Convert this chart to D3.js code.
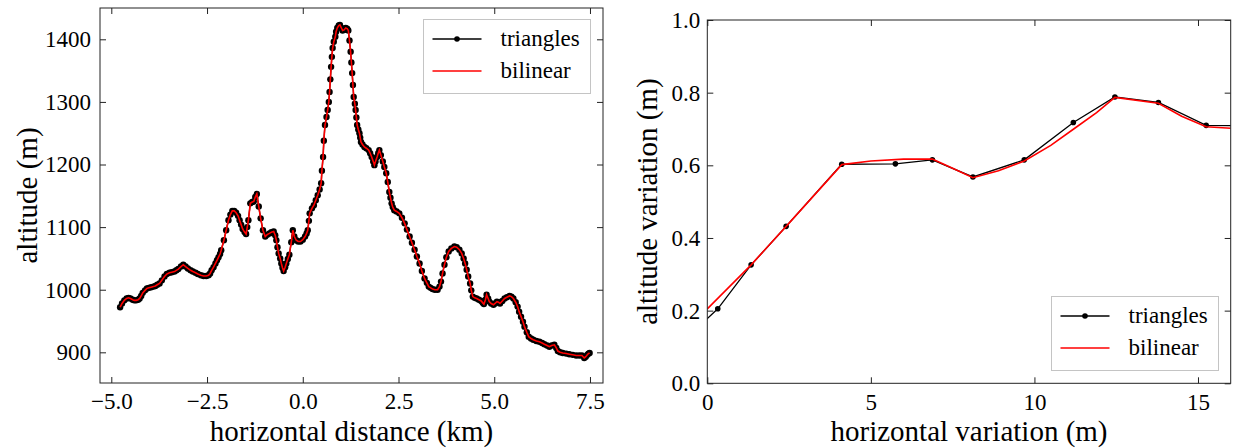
<!DOCTYPE html>
<html lang="en">
  <head>
    <meta charset="UTF-8" />
    <title>profile</title>
    <style>
      body { margin: 0; background: #fff; }
    </style>
  </head>
  <body>
    <svg width="1233" height="448" font-family="'Liberation Serif', 'Times New Roman', Tinos, 'DejaVu Serif', serif"></svg>
    <script src="https://cdn.jsdelivr.net/npm/d3@7"></script>
    <script>
      // left panel: altitude profile (km, m)
      var distKm = [
        -4.77, -4.72, -4.66, -4.6, -4.55, -4.5, -4.44, -4.4, -4.35, -4.3,
        -4.26, -4.22, -4.18, -4.12, -4.07, -4.02, -3.96, -3.9, -3.85, -3.8,
        -3.74, -3.68, -3.61, -3.55, -3.48, -3.42, -3.35, -3.3, -3.25, -3.18,
        -3.12, -3.06, -3.0, -2.93, -2.87, -2.8, -2.74, -2.66, -2.59, -2.52,
        -2.46, -2.42, -2.38, -2.33, -2.28, -2.24, -2.2, -2.16, -2.13, -2.06,
        -2.0, -1.94, -1.89, -1.84, -1.79, -1.74, -1.69, -1.65, -1.61, -1.57,
        -1.52, -1.48, -1.45, -1.42, -1.37, -1.32, -1.28, -1.24, -1.2, -1.15,
        -1.1, -1.04, -0.98, -0.93, -0.87, -0.82, -0.76, -0.72, -0.69, -0.66,
        -0.63, -0.59, -0.56, -0.53, -0.5, -0.46, -0.43, -0.39, -0.35, -0.3,
        -0.26, -0.22, -0.17, -0.12, -0.06, 0.0, 0.06, 0.1, 0.13, 0.16,
        0.18, 0.24, 0.29, 0.34, 0.39, 0.44, 0.48, 0.5, 0.53, 0.55,
        0.58, 0.62, 0.65, 0.68, 0.7, 0.72, 0.74, 0.76, 0.78, 0.81,
        0.85, 0.87, 0.9, 0.94, 0.97, 1.01, 1.04, 1.08, 1.12, 1.16,
        1.19, 1.22, 1.25, 1.27, 1.29, 1.31, 1.33, 1.36, 1.38, 1.4,
        1.42, 1.45, 1.48, 1.5, 1.52, 1.56, 1.61, 1.66, 1.72, 1.76,
        1.8, 1.84, 1.87, 1.9, 1.94, 1.97, 2.0, 2.04, 2.09, 2.13,
        2.18, 2.22, 2.26, 2.29, 2.32, 2.35, 2.39, 2.45, 2.52, 2.59,
        2.66, 2.72, 2.79, 2.85, 2.92, 2.98, 3.05, 3.11, 3.18, 3.24,
        3.29, 3.34, 3.39, 3.45, 3.52, 3.57, 3.61, 3.65, 3.7, 3.75,
        3.81, 3.88, 3.96, 4.02, 4.09, 4.15, 4.2, 4.24, 4.28, 4.32,
        4.37, 4.4, 4.44, 4.49, 4.54, 4.6, 4.66, 4.7, 4.73, 4.77,
        4.8, 4.84, 4.87, 4.92, 4.98, 5.02, 5.07, 5.11, 5.15, 5.21,
        5.27, 5.33, 5.4, 5.45, 5.5, 5.56, 5.61, 5.65, 5.7, 5.75,
        5.79, 5.85, 5.9, 5.96, 6.02, 6.1, 6.18, 6.25, 6.31, 6.38,
        6.44, 6.5, 6.57, 6.62, 6.66, 6.72, 6.79, 6.88, 6.96, 7.05,
        7.14, 7.22, 7.29, 7.35, 7.39, 7.43, 7.46, 7.49
      ];
      var triAlt = [
        972, 978, 983, 986, 987, 986, 984, 983, 983, 984,
        986, 990, 995, 999, 1002, 1003, 1004, 1005, 1006, 1008,
        1010, 1015, 1021, 1025, 1027, 1028, 1029, 1031, 1033, 1037,
        1040, 1037, 1034, 1031, 1029, 1027, 1025, 1023, 1022, 1022,
        1023, 1026, 1031, 1036, 1042, 1047, 1052, 1057, 1063, 1079,
        1095, 1111, 1120, 1126, 1126, 1123, 1118, 1111, 1104, 1097,
        1092, 1089, 1100, 1111, 1138, 1140, 1141, 1148, 1153, 1133,
        1114, 1095, 1085, 1088, 1090, 1092, 1093, 1087, 1079, 1068,
        1058, 1050, 1042, 1035, 1030, 1036, 1042, 1049, 1056, 1076,
        1095, 1085, 1079, 1077, 1077, 1080, 1085, 1090, 1095, 1110,
        1122, 1130, 1135, 1143, 1151, 1160, 1170, 1190, 1212, 1238,
        1263, 1276, 1287, 1300, 1316, 1336, 1356, 1372, 1386, 1396,
        1404, 1412, 1418, 1422, 1423, 1418, 1414, 1415, 1418, 1417,
        1414, 1398, 1380, 1363, 1346, 1327, 1308, 1297, 1287, 1275,
        1263, 1256, 1250, 1243, 1236, 1232, 1228, 1226, 1223, 1218,
        1212, 1205, 1199, 1205, 1212, 1218, 1223, 1215, 1205, 1196,
        1186, 1172, 1156, 1147, 1138, 1132, 1127, 1125, 1122, 1115,
        1106, 1096, 1085, 1075, 1064, 1053, 1042, 1030, 1018, 1011,
        1005, 1003, 1001, 1000, 1000, 1005, 1013, 1026, 1040, 1052,
        1061, 1066, 1069, 1068, 1064, 1058, 1050, 1042, 1032, 1021,
        1010, 999, 989, 987, 986, 984, 982, 979, 977, 984,
        992, 986, 981, 978, 976, 978, 981, 980, 978, 982,
        986, 988, 990, 989, 986, 980, 973, 965, 957, 949,
        941, 932, 925, 922, 920, 918, 917, 915, 913, 911,
        909, 911, 912, 907, 902, 900, 899, 898, 897, 896,
        895, 895, 895, 891, 893, 896, 898, 899
      ];
      // the bilinear curve sits right on the triangle samples here
      var bilAlt = triAlt;

      var distTicks = [-5, -2.5, 0, 2.5, 5, 7.5];
      var altTicks = [900, 1000, 1100, 1200, 1300, 1400];

      // right panel: variation (m)
      var triVarX = [-1.0, 0.32, 1.34, 2.41, 4.11, 5.75, 6.88, 8.12, 9.69, 11.19, 12.46, 13.79, 15.25, 17.0];
      var triVarY = [0.094, 0.205, 0.326, 0.432, 0.603, 0.604, 0.615, 0.568, 0.615, 0.718, 0.788, 0.773, 0.71, 0.708];
      var bilVarX = [0, 1.34, 2.41, 4.11, 5.0, 6.0, 6.88, 7.5, 8.12, 8.9, 9.69, 10.5, 11.2, 11.9, 12.46, 13.79, 14.5, 15.25, 16.0];
      var bilVarY = [0.205, 0.326, 0.432, 0.602, 0.612, 0.617, 0.617, 0.592, 0.566, 0.585, 0.612, 0.655, 0.7, 0.745, 0.787, 0.771, 0.735, 0.706, 0.702];

      var varXTicks = [0, 5, 10, 15];
      var varYTicks = [0, 0.2, 0.4, 0.6, 0.8, 1.0];

      var seriesNames = ["triangles", "bilinear"];

      var svg = d3.select("svg");
      var minus = function (s) { return s.replace("-", "\u2212"); };

      function panel(opt) {
        var x = d3.scaleLinear().domain(opt.xDomain).range([opt.x0, opt.x1]);
        var y = d3.scaleLinear().domain(opt.yDomain).range([opt.y1, opt.y0]);
        var g = svg.append("g");

        g.append("clipPath").attr("id", opt.id)
          .append("rect")
          .attr("x", opt.x0).attr("y", opt.y0)
          .attr("width", opt.x1 - opt.x0).attr("height", opt.y1 - opt.y0);

        var plot = g.append("g").attr("clip-path", "url(#" + opt.id + ")");

        var tri = opt.triX.map(function (d, i) { return [d, opt.triY[i]]; });
        var bil = opt.bilX.map(function (d, i) { return [d, opt.bilY[i]]; });
        var line = d3.line().x(function (d) { return x(d[0]); }).y(function (d) { return y(d[1]); });

        plot.append("path").datum(tri)
          .attr("d", line).attr("fill", "none")
          .attr("stroke", "#000").attr("stroke-width", 1.3);
        plot.selectAll("circle").data(tri).enter().append("circle")
          .attr("cx", function (d) { return x(d[0]); })
          .attr("cy", function (d) { return y(d[1]); })
          .attr("r", opt.r).attr("fill", "#000");
        plot.append("path").datum(bil)
          .attr("d", line).attr("fill", "none")
          .attr("stroke", "#ff0000").attr("stroke-width", 1.6);

        // ticks inward on all four sides
        var fmtX = function (d) { return minus(opt.xFmt(d)); };
        var fmtY = function (d) { return minus(opt.yFmt(d)); };
        var axes = [
          [d3.axisBottom(x).tickValues(opt.xTicks).tickFormat(fmtX).tickPadding(10), opt.y1, 0],
          [d3.axisTop(x).tickValues(opt.xTicks).tickFormat(""), opt.y0, 0],
          [d3.axisLeft(y).tickValues(opt.yTicks).tickFormat(fmtY).tickPadding(opt.yPad), 0, opt.x0],
          [d3.axisRight(y).tickValues(opt.yTicks).tickFormat(""), 0, opt.x1]
        ];
        axes.forEach(function (a) {
          var ax = g.append("g")
            .attr("transform", "translate(" + a[2] + "," + a[1] + ")")
            .call(a[0].tickSize(-6));
          ax.attr("font-family", null).attr("font-size", null);
          ax.select(".domain").remove();
          ax.selectAll("line").attr("stroke", "#222");
          ax.selectAll("text").attr("font-size", 23).attr("fill", "#000");
        });

        g.append("rect")
          .attr("x", opt.x0).attr("y", opt.y0)
          .attr("width", opt.x1 - opt.x0).attr("height", opt.y1 - opt.y0)
          .attr("fill", "none").attr("stroke", "#222").attr("stroke-width", 1);

        g.append("text")
          .attr("x", (opt.x0 + opt.x1) / 2).attr("y", 441)
          .attr("text-anchor", "middle").attr("font-size", 29)
          .text(opt.xLabel);
        g.append("text")
          .attr("transform", "translate(" + opt.yLabelX + "," + (opt.y0 + opt.y1) / 2 + ") rotate(-90)")
          .attr("text-anchor", "middle").attr("dy", "0.35em").attr("font-size", 29)
          .text(opt.yLabel);

        // legend
        var L = opt.legend;
        var lg = g.append("g").attr("transform", "translate(" + L[0] + "," + L[1] + ")");
        lg.append("rect").attr("width", 167).attr("height", 74)
          .attr("fill", "#fff").attr("stroke", "#c4c4c4").attr("stroke-width", 1);
        seriesNames.forEach(function (name, i) {
          var cy = 19.5 + i * 32;
          lg.append("line").attr("x1", 9).attr("x2", 58).attr("y1", cy).attr("y2", cy)
            .attr("stroke", i === 0 ? "#000" : "#ff0000").attr("stroke-width", i === 0 ? 1.3 : 1.6);
          if (i === 0) lg.append("circle").attr("cx", 33.5).attr("cy", cy).attr("r", 2.8).attr("fill", "#000");
          lg.append("text").attr("x", 77).attr("y", cy).attr("dy", "0.3em")
            .attr("font-size", 23).text(name);
        });
      }

      panel({
        id: "clipA",
        x0: 100, x1: 603, y0: 8, y1: 383,
        xDomain: [-5.295, 7.84], yDomain: [851, 1450],
        triX: distKm, triY: triAlt, bilX: distKm, bilY: bilAlt, r: 3.2,
        xTicks: distTicks, yTicks: altTicks,
        xFmt: d3.format(".1f"), yFmt: d3.format("d"), yPad: 9,
        xLabel: "horizontal distance (km)", yLabel: "altitude (m)", yLabelX: 27,
        legend: [423.5, 19.5]
      });

      panel({
        id: "clipB",
        x0: 707.3, x1: 1230.7, y0: 20, y1: 383.3,
        xDomain: [0, 16], yDomain: [0, 1],
        triX: triVarX, triY: triVarY, bilX: bilVarX, bilY: bilVarY, r: 2.8,
        xTicks: varXTicks, yTicks: varYTicks,
        xFmt: d3.format("d"), yFmt: d3.format(".1f"), yPad: 7,
        xLabel: "horizontal variation (m)", yLabel: "altitude variation (m)", yLabelX: 647,
        legend: [1051.5, 296.5]
      });
    </script>
  </body>
</html>
